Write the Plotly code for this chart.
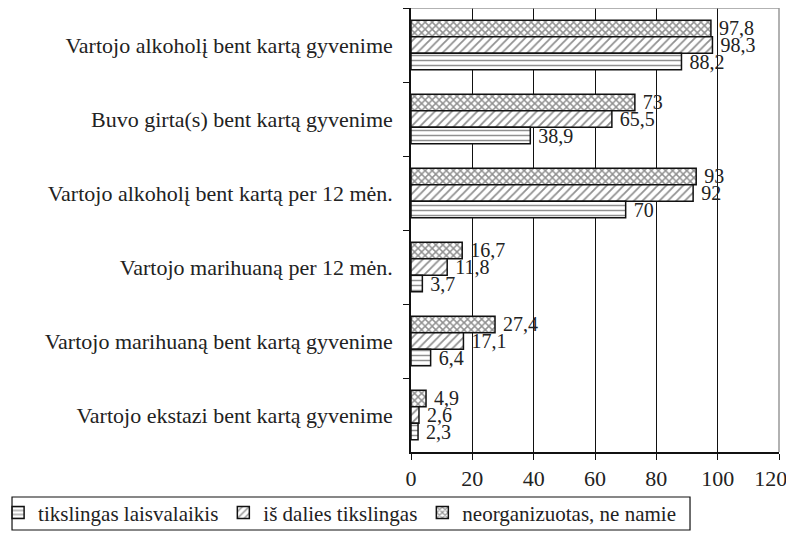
import plotly.graph_objects as go

categories = [
    "Vartojo alkoholį bent kartą gyvenime",
    "Buvo girta(s) bent kartą gyvenime",
    "Vartojo alkoholį bent kartą per 12 mėn.",
    "Vartojo marihuaną per 12 mėn.",
    "Vartojo marihuaną bent kartą gyvenime",
    "Vartojo ekstazi bent kartą gyvenime",
]
series_names = ["tikslingas laisvalaikis", "iš dalies tikslingas", "neorganizuotas, ne namie"]
tikslingas = [88.2, 38.9, 70, 3.7, 6.4, 2.3]
is_dalies = [98.3, 65.5, 92, 11.8, 17.1, 2.6]
neorganizuotas = [97.8, 73, 93, 16.7, 27.4, 4.9]
x_ticks = [0, 20, 40, 60, 80, 100, 120]
x_tick_labels = ["0", "20", "40", "60", "80", "100", "120\u00a0\u00a0\u00a0"]

FONT = "Liberation Serif"

def fmt(v):
    return "\u00a0" + (f"{v:g}").replace(".", ",")

specs = [
    (series_names[2], neorganizuotas, "x", 5, 0.5),
    (series_names[1], is_dalies, "/", 6, 0.3),
    (series_names[0], tikslingas, "-", 5, 0.3),
]

fig = go.Figure()
for name, vals, shape, size, sol in specs:
    fig.add_trace(go.Bar(
        y=categories, x=vals, name=name, orientation="h",
        text=[fmt(v) for v in vals], textposition="outside",
        constraintext="none",
        textfont=dict(family=FONT, size=20, color="#222"),
        cliponaxis=False,
        marker=dict(color="white",
                    line=dict(color="#111", width=1.5),
                    pattern=dict(shape=shape, fgcolor="#222", bgcolor="white",
                                 size=size, solidity=sol)),
    ))

fig.update_layout(
    width=794, height=526,
    margin=dict(l=403, r=23, t=0, b=82, autoexpand=False),
    paper_bgcolor="white", plot_bgcolor="white",
    barmode="group", bargap=0.33, bargroupgap=0,
    font=dict(family=FONT, size=22, color="#222"),
    showlegend=True,
    legend=dict(orientation="h", x=-1.122, y=-0.137, xanchor="left", yanchor="middle",
                traceorder="reversed", borderwidth=0, bgcolor="rgba(0,0,0,0)",
                font=dict(family=FONT, size=21, color="#222"),
                itemwidth=30, tracegroupgap=0),
)
fig.update_xaxes(range=[0, 120], tickvals=x_ticks, ticktext=x_tick_labels,
                 showgrid=True, gridcolor="#111", gridwidth=1.2,
                 showline=True, linecolor="#111", linewidth=1.5, automargin=False,
                 ticks="outside", ticklen=6, tickcolor="#111", zeroline=False,
                 ticklabeloverflow="allow",
                 tickfont=dict(family=FONT, size=22, color="#222"))
fig.update_yaxes(autorange="reversed", showline=True, linecolor="#111", linewidth=1.5,
                 ticks="outside", ticklen=6, tickcolor="#111", tickson="boundaries",
                 showgrid=False, ticklabelstandoff=12, automargin=False,
                 tickfont=dict(family=FONT, size=22, color="#222"))
# light border on top and right
fig.add_shape(type="line", xref="paper", yref="paper", x0=0, x1=1, y0=1, y1=1,
              line=dict(color="#999", width=1.5), layer="above")
fig.add_shape(type="line", xref="paper", yref="paper", x0=1, x1=1, y0=0, y1=1,
              line=dict(color="#999", width=1.5), layer="above")
# legend frame
fig.add_shape(type="rect", xref="paper", yref="paper", x0=-1.0842, x1=0.7582,
              y0=-0.1014, y1=-0.1757, line=dict(color="#111", width=1.2))

fig.write_html("out.html")
